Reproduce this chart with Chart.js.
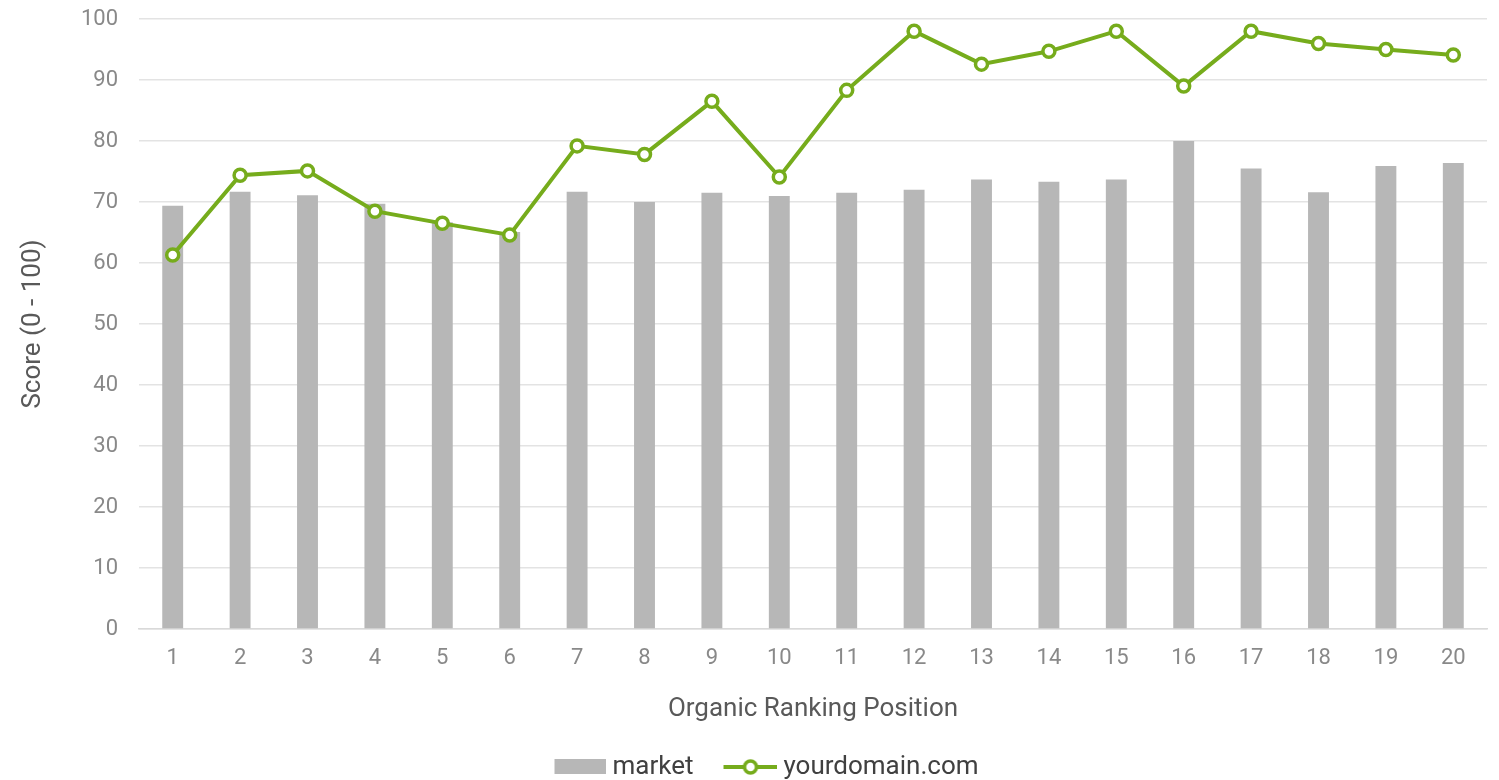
<!DOCTYPE html>
<html>
<head>
<meta charset="utf-8">
<script src="https://cdn.jsdelivr.net/npm/chart.js@4"></script>
<style>
  html, body { margin: 0; padding: 0; background: #fff; }
  #wrap { width: 1499px; height: 780px; }
</style>
</head>
<body>
<div id="wrap"><canvas id="scoreChart"></canvas></div>
<script>
const positions = ['1','2','3','4','5','6','7','8','9','10','11','12','13','14','15','16','17','18','19','20'];
const marketScores = [69.4, 71.7, 71.1, 69.7, 66.7, 65.1, 71.7, 70.0, 71.5, 71.0, 71.5, 72.0, 73.7, 73.3, 73.7, 80.0, 75.5, 71.6, 75.9, 76.4];
const domainScores = [61.3, 74.4, 75.1, 68.5, 66.5, 64.6, 79.2, 77.8, 86.5, 74.1, 88.3, 98.0, 92.6, 94.7, 98.0, 89.0, 98.0, 96.0, 95.0, 94.1];
const yTicks = [0, 10, 20, 30, 40, 50, 60, 70, 80, 90, 100];

const green = '#76ac1c';
const grey = '#b7b7b7';
const font = 'Roboto, "Noto Sans", sans-serif';

// legend swatches (transparent on the left so the gaps match the original legend)
function swatch(kind) {
  const c = document.createElement('canvas');
  c.width = 91; c.height = 18;
  const ctx = c.getContext('2d');
  if (kind === 'bar') {
    ctx.fillStyle = grey;
    ctx.fillRect(39, 1, 52, 15);
  } else {
    ctx.strokeStyle = green;
    ctx.lineWidth = 4;
    ctx.beginPath(); ctx.moveTo(37, 9); ctx.lineTo(91, 9); ctx.stroke();
    ctx.fillStyle = '#fff';
    ctx.lineWidth = 3.5;
    ctx.beginPath(); ctx.arc(64, 9, 6, 0, Math.PI * 2); ctx.fill(); ctx.stroke();
  }
  return c;
}
const barSwatch = swatch('bar');
const lineSwatch = swatch('line');

new Chart(document.getElementById('scoreChart'), {
  data: {
    labels: positions,
    datasets: [
      {
        label: 'market',
        type: 'bar',
        data: marketScores,
        backgroundColor: grey,
        barPercentage: 0.31,
        categoryPercentage: 1,
        order: 1
      },
      {
        label: 'yourdomain.com',
        type: 'line',
        data: domainScores,
        borderColor: green,
        borderWidth: 4,
        pointRadius: 6,
        pointBorderWidth: 3.5,
        pointBackgroundColor: '#fff',
        pointBorderColor: green,
        tension: 0,
        order: 0
      }
    ]
  },
  options: {
    responsive: true,
    maintainAspectRatio: false,
    animation: false,
    layout: { padding: { left: 14, right: 12, top: 0, bottom: -10 } },
    plugins: {
      tooltip: { enabled: false },
      legend: {
        position: 'bottom',
        labels: {
          usePointStyle: true,
          pointStyleWidth: 77,
          padding: 0,
          color: '#404040',
          font: { family: font, size: 26 },
          generateLabels: chart => chart.data.datasets.map((ds, i) => ({
            text: ds.label,
            pointStyle: i === 0 ? barSwatch : lineSwatch,
            fontColor: '#404040',
            lineWidth: 0,
            datasetIndex: i
          }))
        }
      }
    },
    scales: {
      x: {
        afterFit: scale => { scale.height = 125; },
        grid: { display: false, drawTicks: false },
        border: { color: '#d9d9d9', width: 1.5 },
        ticks: { color: '#898989', padding: 16, font: { family: font, size: 22 } },
        title: { display: true, text: 'Organic Ranking Position', color: '#595959', padding: { top: 20, bottom: 29 }, font: { family: font, size: 26 } }
      },
      y: {
        min: 0,
        max: 100,
        afterBuildTicks: scale => { scale.ticks = yTicks.map(v => ({ value: v })); },
        afterFit: scale => {
          scale.width = 125;
          scale.paddingTop = 19;
          scale.paddingBottom = 0;
        },
        grid: { color: '#e3e3e3', lineWidth: 1.5, drawTicks: false },
        border: { display: false },
        ticks: { color: '#898989', padding: 21, font: { family: font, size: 22 } },
        title: { display: true, text: 'Score (0 - 100)', color: '#595959', padding: { bottom: 0 }, font: { family: font, size: 26 } }
      }
    }
  }
});
</script>
</body>
</html>
